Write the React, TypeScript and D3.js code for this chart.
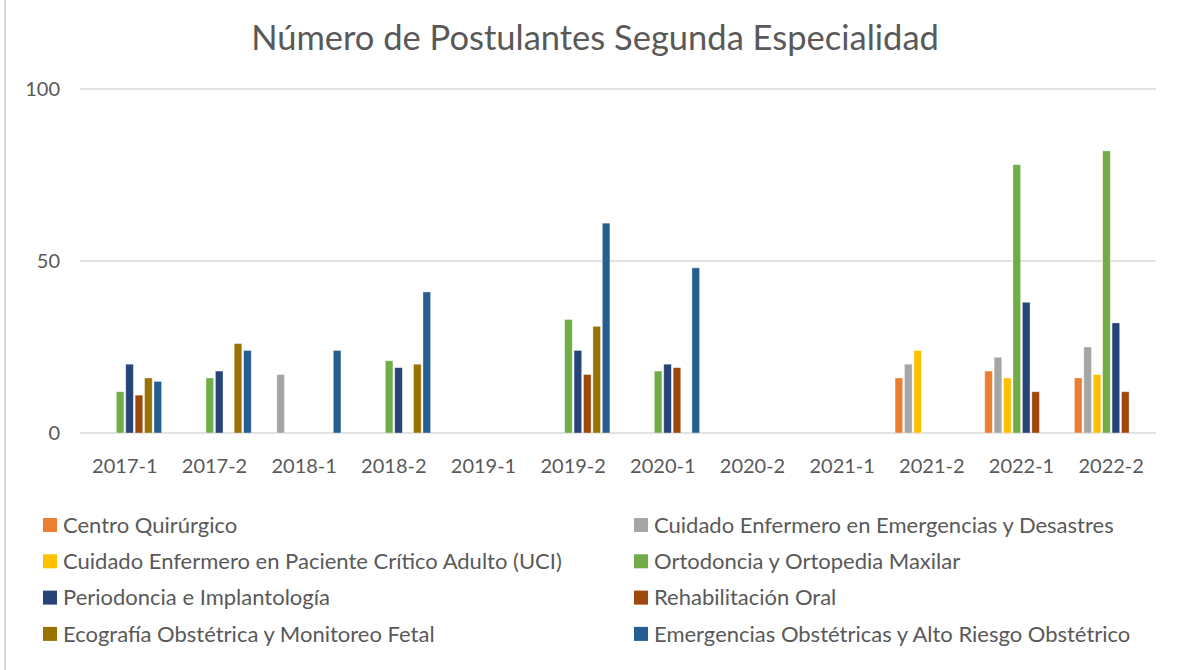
import React, { useEffect, useRef } from 'react';
import * as d3 from 'd3';

// semestres
const periods = ['2017-1', '2017-2', '2018-1', '2018-2', '2019-1', '2019-2', '2020-1', '2020-2', '2021-1', '2021-2', '2022-1', '2022-2'];

const especialidades = [
  'Centro Quirúrgico',
  'Cuidado Enfermero en Emergencias y Desastres',
  'Cuidado Enfermero en Paciente Crítico Adulto (UCI)',
  'Ortodoncia y Ortopedia Maxilar',
  'Periodoncia e Implantología',
  'Rehabilitación Oral',
  'Ecografía Obstétrica y Monitoreo Fetal',
  'Emergencias Obstétricas y Alto Riesgo Obstétrico',
];

const colores = ['#ED7D31', '#A5A5A5', '#FFC000', '#70AD47', '#264478', '#9E480E', '#997300', '#255E91'];

// valores por especialidad (null = sin postulantes)
const centroQuirurgico = [null, null, null, null, null, null, null, null, null, 16, 18, 16];
const emergenciasDesastres = [null, null, 17, null, null, null, null, null, null, 20, 22, 25];
const pacienteCritico = [null, null, null, null, null, null, null, null, null, 24, 16, 17];
const ortodoncia = [12, 16, null, 21, null, 33, 18, null, null, null, 78, 82];
const periodoncia = [20, 18, null, 19, null, 24, 20, null, null, null, 38, 32];
const rehabilitacion = [11, null, null, null, null, 17, 19, null, null, null, 12, 12];
const ecografia = [16, 26, null, 20, null, 31, null, null, null, null, null, null];
const emergenciasObstetricas = [15, 24, 24, 41, null, 61, 48, null, null, null, null, null];

const series = [centroQuirurgico, emergenciasDesastres, pacienteCritico, ortodoncia, periodoncia, rehabilitacion, ecografia, emergenciasObstetricas];

const yTicks = [0, 50, 100];

const App = () => {
  const ref = useRef<SVGSVGElement | null>(null);

  useEffect(() => {
    const svg = d3.select(ref.current);
    svg.selectAll('*').remove();

    const width = 1182;
    const height = 670;
    const left = 80;
    const right = 1156;
    const top = 89;
    const bottom = 433;
    const font = 'Lato, Carlito, "Open Sans", sans-serif';
    const textColor = '#595959';

    svg.append('rect').attr('width', width).attr('height', height).attr('fill', '#fff');
    // borde del área del gráfico
    svg.append('line').attr('x1', 5).attr('x2', 5).attr('y1', 0).attr('y2', height)
      .attr('stroke', '#d9d9d9').attr('stroke-width', 2);

    const x0 = d3.scaleBand().domain(periods).range([left, right]).paddingInner(0.16).paddingOuter(0.08);
    const x1 = d3.scaleBand().domain(especialidades).range([0, x0.bandwidth()]);
    const y = d3.scaleLinear().domain([0, 100]).range([bottom, top]);

    svg.append('text')
      .attr('x', 595).attr('y', 50)
      .attr('text-anchor', 'middle')
      .attr('font-family', font).attr('font-size', 34.5)
      .attr('fill', textColor)
      .text('Número de Postulantes Segunda Especialidad');

    svg.append('g').selectAll('line').data(yTicks).join('line')
      .attr('x1', left).attr('x2', right)
      .attr('y1', d => y(d)).attr('y2', d => y(d))
      .attr('stroke', '#d9d9d9').attr('stroke-width', 1.5);

    svg.append('g').selectAll('text').data(yTicks).join('text')
      .attr('x', 60).attr('y', d => y(d))
      .attr('dy', '0.35em')
      .attr('text-anchor', 'end')
      .attr('font-family', font).attr('font-size', 20)
      .attr('fill', textColor)
      .text(d => d);

    const groups = svg.append('g').selectAll('g').data(periods).join('g')
      .attr('transform', d => `translate(${x0(d)},0)`);

    groups.selectAll('rect')
      .data((p, i) => series.map((s, k) => ({ k, v: s[i] })).filter(d => d.v != null))
      .join('rect')
      .attr('x', d => (x1(especialidades[d.k]) as number) + 0.9)
      .attr('width', x1.bandwidth() - 1.8)
      .attr('y', d => y(d.v as number))
      .attr('height', d => y(0) - y(d.v as number))
      .attr('fill', d => colores[d.k])
      .attr('stroke', '#fff').attr('stroke-opacity', 0.45).attr('stroke-width', 0.8);

    svg.append('g').selectAll('text').data(periods).join('text')
      .attr('x', d => (x0(d) as number) + x0.bandwidth() / 2)
      .attr('y', 466)
      .attr('dy', '0.35em')
      .attr('text-anchor', 'middle')
      .attr('font-family', font).attr('font-size', 20)
      .attr('fill', textColor)
      .text(d => d);

    // leyenda en dos columnas
    const legend = svg.append('g').selectAll('g').data(especialidades).join('g')
      .attr('transform', (d, i) => `translate(${i % 2 === 0 ? 43 : 634},${525 + Math.floor(i / 2) * 36.3})`);

    legend.append('rect')
      .attr('x', 0).attr('y', -7).attr('width', 14).attr('height', 14)
      .attr('fill', (d, i) => colores[i]);

    legend.append('text')
      .attr('x', 20).attr('y', 0).attr('dy', '0.35em')
      .attr('font-family', font).attr('font-size', 22)
      .attr('fill', textColor)
      .text(d => d);
  }, []);

  return (
    <svg ref={ref} width={1182} height={670} style={{ position: 'absolute', left: 0, top: 0 }} />
  );
};

export default App;
